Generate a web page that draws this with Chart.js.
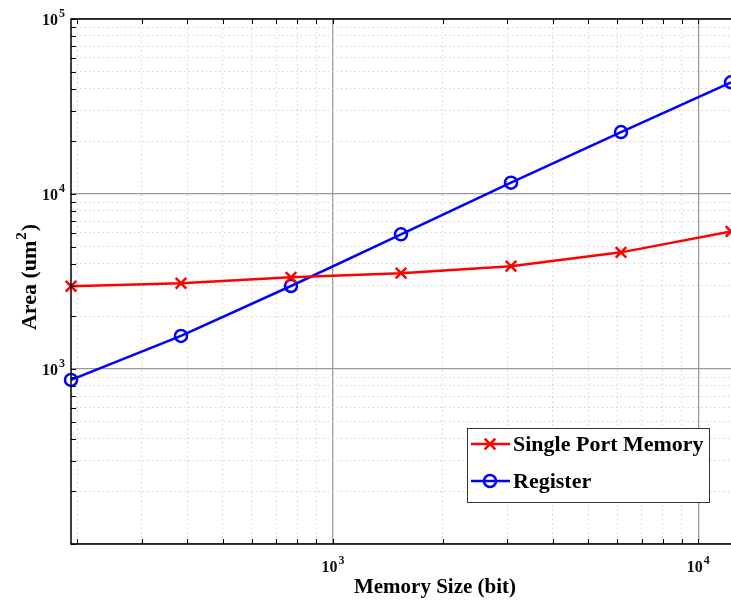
<!DOCTYPE html>
<html>
<head>
<meta charset="utf-8">
<script src="https://cdn.jsdelivr.net/npm/chart.js@4.4.1/dist/chart.umd.min.js"></script>
<style>
  html, body { margin: 0; padding: 0; background: #fff; }
  #wrap { width: 731px; height: 603px; }
</style>
</head>
<body>
<div id="wrap"><canvas id="chart" width="731" height="603"></canvas></div>
<script>
// data
const memorySizes = [192, 384, 768, 1536, 3072, 6144, 12288];
const singlePortArea = [2970, 3090, 3340, 3530, 3870, 4640, 6110];
const registerArea = [866, 1545, 2980, 5880, 11600, 22600, 43500];
const seriesLabels = ['Single Port Memory', 'Register'];
const xTickLabels = [1000, 10000];
const yTickLabels = [1000, 10000, 100000];

const X_MIN = 192, X_MAX = 12288;
const Y_MIN = 100, Y_MAX = 100000;
const SERIF = "'Liberation Serif', 'DejaVu Serif', serif";

// 1..9 x 10^n values inside [min, max]
function logTicks(min, max) {
    const out = [];
    for (let e = Math.floor(Math.log10(min)); e <= Math.ceil(Math.log10(max)); e++) {
        for (let k = 1; k <= 9; k++) {
            const v = k * Math.pow(10, e);
            if (v >= min * 0.999 && v <= max * 1.001) out.push(v);
        }
    }
    return out;
}

function isDecade(v) {
    if (!v) return false;
    const l = Math.log10(v);
    return Math.abs(l - Math.round(l)) < 1e-9;
}

function gridScale(min, max, fitFn) {
    return {
        type: 'logarithmic',
        min: min,
        max: max,
        bounds: 'data',
        afterBuildTicks: s => { s.ticks = logTicks(min, max).map(v => ({ value: v })); },
        afterFit: fitFn,
        ticks: { display: false },
        grid: {
            drawTicks: false,
            color: c => (c.tick && isDecade(c.tick.value)) ? '#9a9a9a' : '#d2d2d2',
            lineWidth: c => (c.tick && isDecade(c.tick.value)) ? 1.3 : 1
        },
        border: {
            display: false,
            dash: c => (c.tick && !isDecade(c.tick.value)) ? [1.5, 3] : []
        }
    };
}

// label like 10^3 with a real superscript
function drawPower(ctx, exp, x, y, align) {
    const baseFont = 'bold 16px ' + SERIF;
    const supFont = 'bold 12px ' + SERIF;
    ctx.font = baseFont;
    const wb = ctx.measureText('10').width;
    ctx.font = supFont;
    const ws = ctx.measureText(String(exp)).width;
    const total = wb + ws + 1;
    let left = x;
    if (align === 'center') left = x - total / 2;
    else if (align === 'right') left = x - total;
    ctx.textAlign = 'left';
    ctx.textBaseline = 'alphabetic';
    ctx.font = baseFont;
    ctx.fillText('10', left, y);
    ctx.font = supFont;
    ctx.fillText(String(exp), left + wb + 1, y - 8);
}

const decorPlugin = {
    id: 'decor',
    afterDraw(chart) {
        const ctx = chart.ctx;
        const area = chart.chartArea;
        const xs = chart.scales.x, ys = chart.scales.y;
        ctx.save();
        ctx.fillStyle = '#111';
        ctx.strokeStyle = '#000';

        // frame: left, top, bottom
        ctx.lineWidth = 1.5;
        ctx.beginPath();
        ctx.moveTo(area.right + 2, area.top);
        ctx.lineTo(area.left, area.top);
        ctx.lineTo(area.left, area.bottom);
        ctx.lineTo(area.right + 2, area.bottom);
        ctx.stroke();

        // inward tick marks
        ctx.lineWidth = 1;
        ctx.beginPath();
        xs.ticks.forEach(t => {
            const px = Math.round(xs.getPixelForValue(t.value)) + 0.5;
            ctx.moveTo(px, area.bottom); ctx.lineTo(px, area.bottom - 5);
            ctx.moveTo(px, area.top); ctx.lineTo(px, area.top + 5);
        });
        ys.ticks.forEach(t => {
            const py = Math.round(ys.getPixelForValue(t.value)) + 0.5;
            ctx.moveTo(area.left, py); ctx.lineTo(area.left + 5, py);
        });
        ctx.stroke();

        // tick labels
        xTickLabels.forEach(v => {
            drawPower(ctx, Math.round(Math.log10(v)), xs.getPixelForValue(v), area.bottom + 28, 'center');
        });
        yTickLabels.forEach(v => {
            drawPower(ctx, Math.round(Math.log10(v)), area.left - 6, ys.getPixelForValue(v) + 6, 'right');
        });

        // axis titles
        ctx.fillStyle = '#000';
        ctx.font = 'bold 21px ' + SERIF;
        ctx.textAlign = 'center';
        ctx.textBaseline = 'alphabetic';
        ctx.fillText('Memory Size (bit)', 435, 593);

        ctx.save();
        ctx.translate(36, 277);
        ctx.rotate(-Math.PI / 2);
        const t1 = 'Area (um', t2 = '2', t3 = ')';
        ctx.font = 'bold 22px ' + SERIF;
        const w1 = ctx.measureText(t1).width, w3 = ctx.measureText(t3).width;
        ctx.font = 'bold 15px ' + SERIF;
        const w2 = ctx.measureText(t2).width;
        const lx = -(w1 + w2 + w3 + 2) / 2;
        ctx.textAlign = 'left';
        ctx.font = 'bold 22px ' + SERIF;
        ctx.fillText(t1, lx, 0);
        ctx.font = 'bold 15px ' + SERIF;
        ctx.fillText(t2, lx + w1 + 1, -10);
        ctx.font = 'bold 22px ' + SERIF;
        ctx.fillText(t3, lx + w1 + w2 + 2, 0);
        ctx.restore();

        // legend box
        const bx = 467.5, by = 428.5, bw = 242, bh = 74;
        ctx.fillStyle = '#fff';
        ctx.fillRect(bx, by, bw, bh);
        ctx.strokeStyle = '#333';
        ctx.lineWidth = 1;
        ctx.strokeRect(bx, by, bw, bh);

        const rows = [444, 481];
        chart.data.datasets.forEach((ds, i) => {
            const y = rows[i];
            ctx.strokeStyle = ds.borderColor;
            ctx.lineWidth = 2.5;
            ctx.beginPath();
            ctx.moveTo(471, y); ctx.lineTo(510, y);
            ctx.stroke();
            ctx.beginPath();
            if (ds.pointStyle === 'crossRot') {
                const d = 5.3;
                ctx.moveTo(490 - d, y - d); ctx.lineTo(490 + d, y + d);
                ctx.moveTo(490 - d, y + d); ctx.lineTo(490 + d, y - d);
            } else {
                ctx.arc(490, y, ds.pointRadius, 0, Math.PI * 2);
            }
            ctx.stroke();
            ctx.fillStyle = '#000';
            ctx.font = 'bold 22px ' + SERIF;
            ctx.textAlign = 'left';
            ctx.textBaseline = 'middle';
            ctx.fillText(ds.label, 513, y + 1);
        });
        ctx.restore();
    }
};

new Chart(document.getElementById('chart'), {
    type: 'line',
    data: {
        datasets: [
            {
                label: seriesLabels[0],
                data: memorySizes.map((x, i) => ({ x: x, y: singlePortArea[i] })),
                borderColor: '#ff0000',
                borderWidth: 2.5,
                pointStyle: 'crossRot',
                pointRadius: 7.5,
                pointBorderWidth: 2.5,
                pointBorderColor: '#ff0000',
                pointBackgroundColor: '#ff0000',
                tension: 0,
                clip: false
            },
            {
                label: seriesLabels[1],
                data: memorySizes.map((x, i) => ({ x: x, y: registerArea[i] })),
                borderColor: '#0000ff',
                borderWidth: 2.5,
                pointStyle: 'circle',
                pointRadius: 6,
                pointBorderWidth: 2.5,
                pointBorderColor: '#0000ff',
                pointBackgroundColor: 'rgba(0,0,0,0)',
                tension: 0,
                clip: false
            }
        ]
    },
    options: {
        responsive: false,
        animation: false,
        devicePixelRatio: 1,
        layout: { autoPadding: false, padding: { left: 0, right: 0, top: 19, bottom: 0 } },
        plugins: {
            legend: { display: false },
            tooltip: { enabled: false }
        },
        scales: {
            x: gridScale(X_MIN, X_MAX, s => { s.height = 59; }),
            y: gridScale(Y_MIN, Y_MAX, s => { s.width = 71; })
        }
    },
    plugins: [decorPlugin]
});
</script>
</body>
</html>
